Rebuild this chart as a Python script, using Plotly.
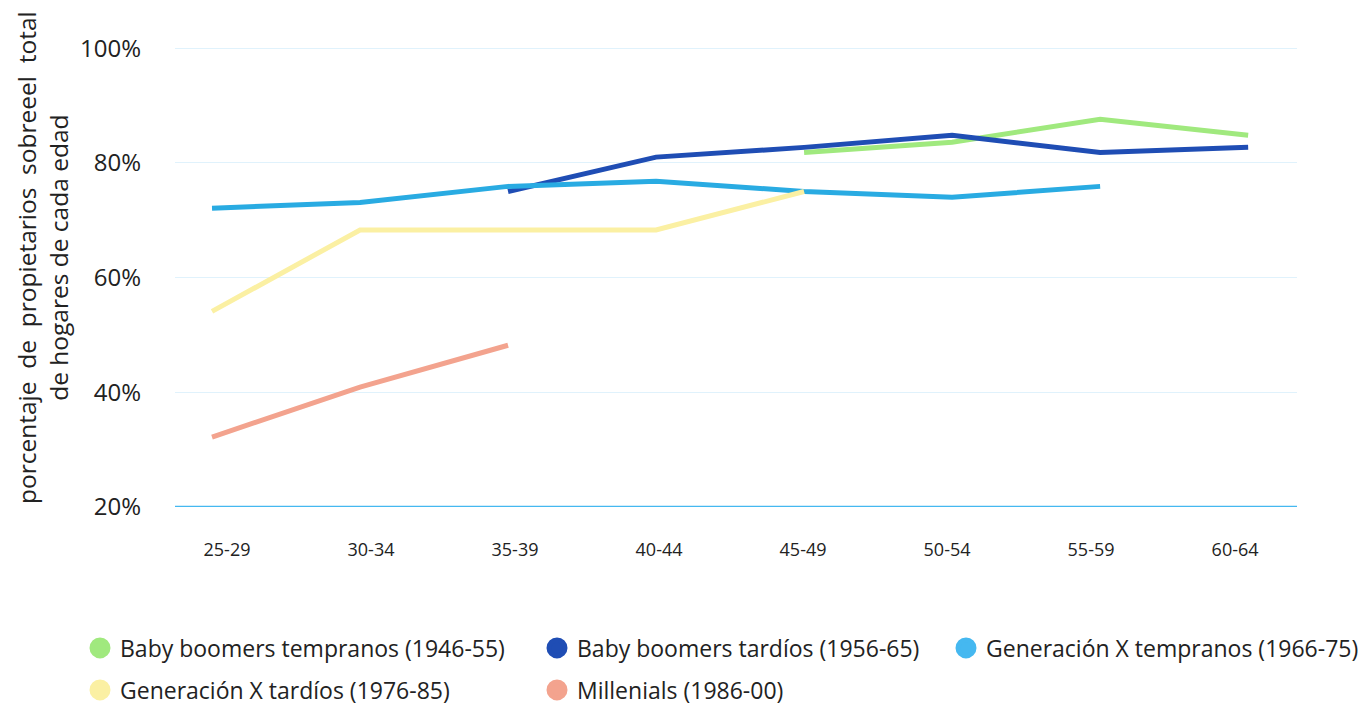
import plotly.graph_objects as go

ages = ["25-29", "30-34", "35-39", "40-44", "45-49", "50-54", "55-59", "60-64"]

bb_tempranos = [None, None, None, None, 81.8, 83.6, 87.6, 84.8]
bb_tardios = [None, None, 75.0, 81.0, 82.7, 84.8, 81.8, 82.7]
genx_tempranos = [72.1, 73.1, 75.9, 76.8, 75.0, 74.0, 75.9, None]
genx_tardios = [54.1, 68.3, 68.3, 68.3, 75.0, None, None, None]
millenials = [32.2, 40.9, 48.2, None, None, None, None, None]

series_names = [
    "Baby boomers tempranos (1946-55)",
    "Baby boomers tardíos (1956-65)",
    "Generación X tempranos (1966-75)",
    "Generación X tardíos (1976-85)",
    "Millenials (1986-00)",
]
series_values = [bb_tempranos, bb_tardios, genx_tempranos, genx_tardios, millenials]
line_colors = ["#a0e97e", "#1f4db4", "#29abe2", "#fbf0a3", "#f3a38e"]
marker_colors = ["#a0e97e", "#1f4db4", "#45b8f0", "#fbf0a3", "#f3a38e"]

yticks = [20, 40, 60, 80, 100]
ytick_labels = ["20%", "40%", "60%", "80%", "100%"]

y_title = "porcentaje  de  propietarios  sobreeel  total<br>de hogares de cada edad"

FONT = "Open Sans"
TXT = "#222222"

fig = go.Figure()

for i in range(len(series_names)):
    fig.add_trace(go.Scatter(
        x=ages, y=series_values[i], mode="lines",
        line=dict(color=line_colors[i], width=5),
        showlegend=False, hoverinfo="skip", connectgaps=False,
    ))

# invisible trace carrying the category tick labels (own axis, own spacing)
fig.add_trace(go.Scatter(x=ages, y=[None] * len(ages), xaxis="x2",
                         mode="lines", showlegend=False, hoverinfo="skip"))

legend_ids = ["legend", "legend2", "legend3", "legend4", "legend5"]
for i, name in enumerate(series_names):
    fig.add_trace(go.Scatter(
        x=[None], y=[None], mode="markers", name=name,
        marker=dict(color=marker_colors[i], size=16, symbol="circle",
                    line=dict(color=marker_colors[i], width=5)),
        legend=legend_ids[i], showlegend=True,
    ))

W, H = 1358, 706
col_px = [80, 537, 946]
row_px = [648, 690]
pos = [(col_px[0], row_px[0]), (col_px[1], row_px[0]), (col_px[2], row_px[0]),
       (col_px[0], row_px[1]), (col_px[1], row_px[1])]

legend_common = dict(
    font=dict(family=FONT, size=23, color=TXT),
    bgcolor="rgba(0,0,0,0)", borderwidth=0,
    xanchor="left", yanchor="middle", orientation="v",
    xref="container", yref="container",
)
layout_legends = {}
for lid, (px, py) in zip(legend_ids, pos):
    layout_legends[lid] = dict(legend_common, x=px / W, y=1 - py / H)

fig.update_layout(
    width=W, height=H,
    paper_bgcolor="white", plot_bgcolor="white",
    margin=dict(l=175, r=61, t=47, b=199, autoexpand=False),
    font=dict(family=FONT, color=TXT),
    xaxis=dict(
        type="category", categoryorder="array", categoryarray=ages,
        range=[-0.25, 7.33], showgrid=False, zeroline=False,
        showline=False, ticks="", showticklabels=False,
    ),
    xaxis2=dict(
        type="category", categoryorder="array", categoryarray=ages,
        overlaying="x", side="bottom", anchor="y",
        range=[-0.361, 7.43], showgrid=False, zeroline=False,
        showline=False, ticks="",
        tickfont=dict(family=FONT, size=18, color=TXT),
        ticklabelstandoff=30,
    ),
    yaxis=dict(
        range=[20, 100.2], tickvals=yticks, ticktext=ytick_labels,
        showgrid=True, gridcolor="#e0f2fc", gridwidth=1,
        zeroline=False, showline=False, ticks="",
        tickfont=dict(family=FONT, size=24, color=TXT),
        ticklabelstandoff=33,
    ),
    **layout_legends,
)

fig.add_annotation(
    text=y_title, textangle=-90, showarrow=False,
    xref="paper", yref="paper",
    x=(42 - 175) / 1122, y=(507 - 258) / 460,
    xanchor="center", yanchor="middle", align="center",
    font=dict(family=FONT, size=24.5, color=TXT),
)

fig.add_shape(type="line", xref="paper", yref="y", x0=0, x1=1, y0=20, y1=20,
              line=dict(color="#45b8f0", width=2.5), layer="below")

fig.write_html("out.html", config={"displayModeBar": False},
               post_script="document.body.style.margin='0';document.body.style.overflow='hidden';")
